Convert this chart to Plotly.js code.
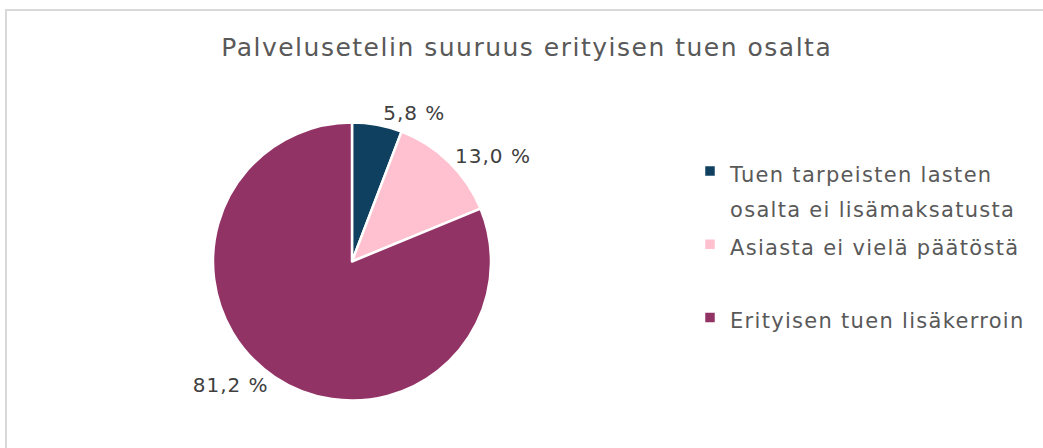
<!DOCTYPE html>
<html>
<head>
<meta charset="utf-8">
<script src="https://cdn.plot.ly/plotly-3.0.1.min.js"></script>
<style>
html,body{margin:0;padding:0;background:#fff;overflow:hidden;}
#chart{width:1043px;height:448px;position:absolute;left:0;top:0;}
#frame{position:absolute;left:5px;top:9px;width:1100px;height:500px;border-left:2px solid #d9d9d9;border-top:2px solid #d9d9d9;pointer-events:none;}
</style>
</head>
<body>
<div id="chart"></div>
<div id="frame"></div>
<script>
const chartTitle = "Palvelusetelin suuruus erityisen tuen osalta";
const categories = ["Tuen tarpeisten lasten<br>osalta ei lisämaksatusta", "Asiasta ei vielä päätöstä<br> ", "Erityisen tuen lisäkerroin"];
const values = [5.8, 13.0, 81.2];
const colors = ["#10405f", "#ffc0cf", "#923366"];
const labelsText = values.map(v => v.toFixed(1).replace('.', ',') + ' %');

const W = 1043, H = 448;
const wrap = (s, style) => s.split('<br>').map(p => '<span style="' + style + '">' + p + '</span>').join('<br>');
const trace = {
  type: 'pie',
  labels: categories.map(c => wrap(c, 'font-size:21px;letter-spacing:1.3px')),
  values: values,
  text: labelsText.map(t => wrap(t, 'letter-spacing:1px')),
  textinfo: 'text',
  textposition: 'outside',
  sort: false,
  direction: 'clockwise',
  rotation: 0,
  marker: {colors: colors, line: {color: '#ffffff', width: 2.5}},
  outsidetextfont: {family: 'DejaVu Sans', size: 20, color: '#404040'},
  domain: {x: [213/W, 491/W], y: [1 - 401/H, 1 - 122/H]},
  hoverinfo: 'label+percent'
};
const layout = {
  width: W, height: H,
  margin: {l: 0, r: 0, t: 0, b: 0},
  paper_bgcolor: '#ffffff',
  title: {text: wrap(chartTitle, 'letter-spacing:1.5px'), font: {family: 'DejaVu Sans', size: 25, color: '#595959'}, x: 0.505, xanchor: 'center', y: 1 - 47/H, yanchor: 'middle'},
  showlegend: true,
  legend: {x: 690/W, xanchor: 'left', y: 1 - 147/H, yanchor: 'top', valign: 'top', font: {family: 'DejaVu Sans', size: 27, color: '#595959'}, tracegroupgap: 0, itemwidth: 30},
  separators: ', '
};
Plotly.newPlot('chart', [trace], layout, {displayModeBar: false, staticPlot: true});
</script>
</body>
</html>
